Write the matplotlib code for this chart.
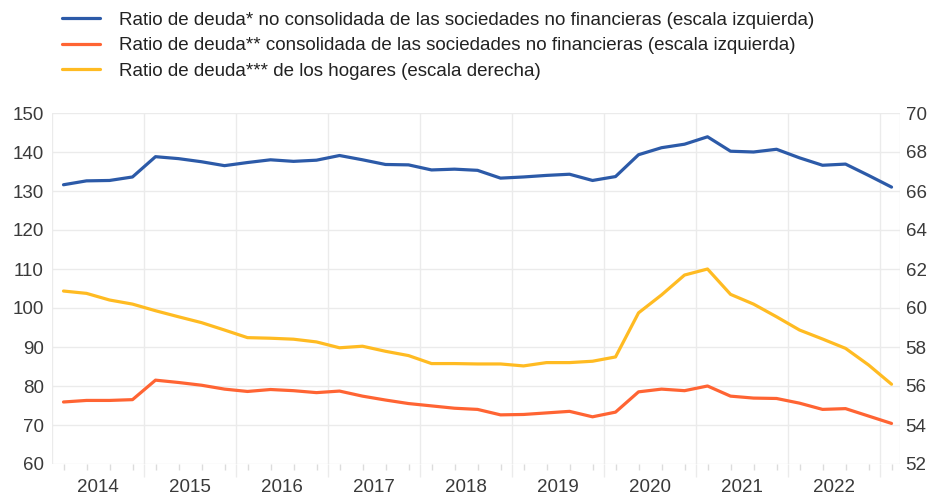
import matplotlib
matplotlib.use('Agg')
import matplotlib.pyplot as plt
import numpy as np

plt.rcParams['font.family'] = ['Liberation Sans', 'DejaVu Sans']

# quarterly data, 2014Q1 .. 2023Q1
start_year = 2014
deuda_no_consolidada = [131.6, 132.6, 132.7, 133.6, 138.8, 138.3, 137.5, 136.5,
                        137.3, 138.0, 137.6, 137.9, 139.1, 138.0, 136.8, 136.7,
                        135.4, 135.6, 135.3, 133.3, 133.6, 134.0, 134.3, 132.7,
                        133.7, 139.3, 141.1, 142.0, 143.9, 140.2, 140.0, 140.7,
                        138.5, 136.6, 136.9, 134.0, 131.0]
deuda_consolidada = [75.9, 76.3, 76.3, 76.5, 81.5, 80.9, 80.2, 79.2,
                     78.6, 79.1, 78.8, 78.3, 78.7, 77.4, 76.4, 75.5,
                     74.9, 74.3, 74.0, 72.6, 72.7, 73.1, 73.5, 72.1,
                     73.3, 78.5, 79.2, 78.8, 80.0, 77.4, 76.9, 76.8,
                     75.6, 74.0, 74.2, 72.3, 70.4]
deuda_hogares = [60.87, 60.75, 60.41, 60.2, 59.86, 59.55, 59.25, 58.87,
                 58.48, 58.45, 58.4, 58.26, 57.96, 58.04, 57.78, 57.56,
                 57.15, 57.15, 57.13, 57.13, 57.03, 57.2, 57.2, 57.27,
                 57.49, 59.75, 60.67, 61.69, 62.0, 60.7, 60.2, 59.55,
                 58.87, 58.41, 57.93, 57.08, 56.09]
years = [2014, 2015, 2016, 2017, 2018, 2019, 2020, 2021, 2022]
labels = ['Ratio de deuda* no consolidada de las sociedades no financieras (escala izquierda)',
          'Ratio de deuda** consolidada de las sociedades no financieras (escala izquierda)',
          'Ratio de deuda*** de los hogares (escala derecha)']
colors = ['#2c5aa8', '#ff6433', '#ffbb22']

# mid-quarter positions
x = start_year + 0.125 + 0.25 * np.arange(len(deuda_no_consolidada))

fig = plt.figure(figsize=(9.32, 4.95), dpi=100)
ax = fig.add_axes([52 / 932, 1 - 464 / 495, 848 / 932, 351 / 495])
ax2 = ax.twinx()

l1, = ax.plot(x, deuda_no_consolidada, color=colors[0], lw=2.3, solid_capstyle='round')
l2, = ax.plot(x, deuda_consolidada, color=colors[1], lw=2.3, solid_capstyle='round')
l3, = ax2.plot(x, deuda_hogares, color=colors[2], lw=2.3, solid_capstyle='round')

ax.set_xlim(2014.0, 2023.217)
ax.set_ylim(60, 150)
ax2.set_ylim(52, 70)
ax.set_yticks(np.arange(60, 151, 10))
ax2.set_yticks(np.arange(52, 71, 2))

grid_c = '#ebebeb'
tick_c = '#3a3a3a'
ax.grid(axis='y', color=grid_c, lw=1)
ax.set_xticks([y + 1 for y in years], minor=True)
ax.grid(axis='x', which='minor', color=grid_c, lw=1)
ax.set_xticks([y + 0.5 for y in years], [str(y) for y in years])
ax.tick_params(axis='x', which='major', length=0, pad=11, labelsize=13.5, labelcolor=tick_c)
ax.tick_params(axis='x', which='minor', length=9, color=grid_c, width=1)
ax.tick_params(axis='y', length=0, pad=6, labelsize=13.5, labelcolor=tick_c)
ax2.tick_params(axis='y', length=0, pad=4, labelsize=13.5, labelcolor=tick_c)

# small ticks at each quarter
sec = ax.secondary_xaxis('bottom')
sec.set_xticks(x, [''] * len(x))
sec.tick_params(length=4, color='#dcdcdc', width=1)
sec.spines['bottom'].set_visible(False)

for a in (ax, ax2):
    for s in a.spines.values():
        s.set_visible(False)
ax.axvline(2014.0, color=grid_c, lw=1)
ax.axvline(2023.217, color=grid_c, lw=1)

fig.legend([l1, l2, l3], labels, loc='upper left', bbox_to_anchor=(62 / 932, 1 - 11.5 / 495),
           frameon=False, fontsize=13.5, handlelength=2.05, handletextpad=1.0,
           labelspacing=0.45, borderaxespad=0, borderpad=0, labelcolor='#222222')

fig.savefig('out.png', dpi=100)
